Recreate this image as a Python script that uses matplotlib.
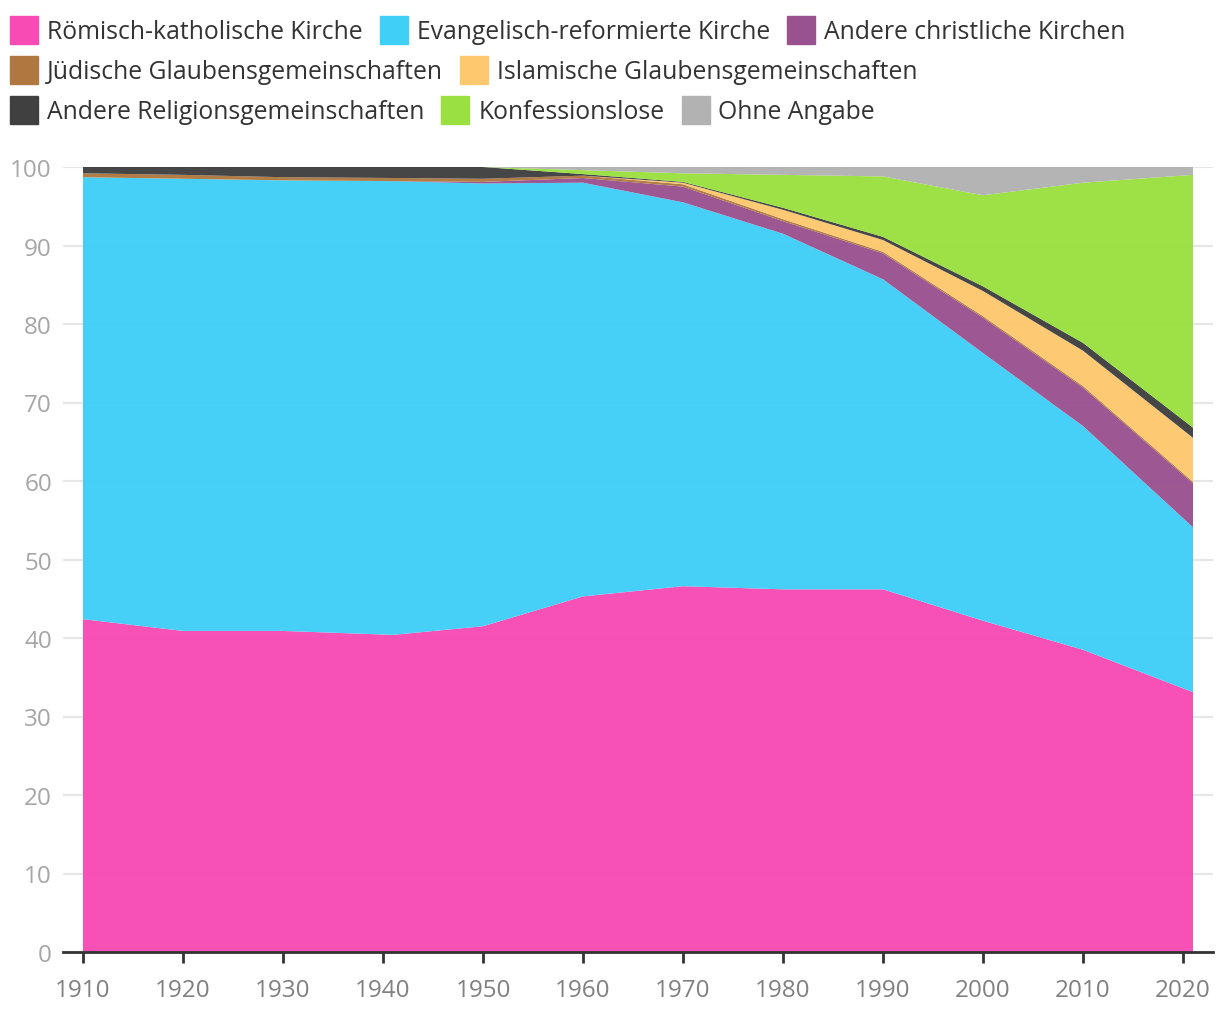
import matplotlib
matplotlib.use("Agg")
import matplotlib.pyplot as plt
from matplotlib.patches import Rectangle

plt.rcParams['font.family'] = ['Open Sans', 'DejaVu Sans']

# data (Anteile in %)
years = [1910, 1920, 1930, 1941, 1950, 1960, 1970, 1980, 1990, 2000, 2010, 2021]
katholisch = [42.4, 40.9, 40.9, 40.4, 41.5, 45.3, 46.6, 46.2, 46.2, 42.2, 38.5, 33.1]
reformiert = [56.3, 57.6, 57.4, 57.8, 56.4, 52.7, 48.9, 45.3, 39.5, 34.1, 28.5, 21.0]
andere_christ = [0.0, 0.0, 0.0, 0.0, 0.2, 0.6, 2.0, 1.6, 3.3, 4.5, 4.9, 5.6]
juedisch = [0.5, 0.5, 0.4, 0.4, 0.4, 0.3, 0.3, 0.25, 0.2, 0.2, 0.2, 0.2]
islamisch = [0.0, 0.0, 0.0, 0.0, 0.0, 0.0, 0.2, 1.2, 1.5, 3.2, 4.5, 5.6]
andere_rel = [0.8, 1.0, 1.3, 1.4, 1.5, 0.2, 0.1, 0.25, 0.4, 0.6, 1.0, 1.3]
konfessionslos = [0.0, 0.0, 0.0, 0.0, 0.0, 0.5, 1.1, 4.2, 7.7, 11.6, 20.4, 32.2]
ohne_angabe = [0.0, 0.0, 0.0, 0.0, 0.0, 0.4, 0.8, 1.0, 1.2, 3.6, 2.0, 1.0]

labels = ['Römisch-katholische Kirche', 'Evangelisch-reformierte Kirche', 'Andere christliche Kirchen',
          'Jüdische Glaubensgemeinschaften', 'Islamische Glaubensgemeinschaften',
          'Andere Religionsgemeinschaften', 'Konfessionslose', 'Ohne Angabe']
colors = ['#f84bb4', '#40cff7', '#9a5190', '#b07840', '#fdc86e', '#404040', '#9be041', '#b2b2b2']
xticks = [1910, 1920, 1930, 1940, 1950, 1960, 1970, 1980, 1990, 2000, 2010, 2020]
yticks = [0, 10, 20, 30, 40, 50, 60, 70, 80, 90, 100]

W, H = 1220, 1020
fig = plt.figure(figsize=(W / 100, H / 100), dpi=100)
ax = fig.add_axes([63 / W, (H - 953) / H, (1213 - 63) / W, (953 - 168) / H])

series = [katholisch, reformiert, andere_christ, juedisch, islamisch, andere_rel, konfessionslos, ohne_angabe]
ax.stackplot(years, *series, colors=colors, alpha=0.97, linewidth=0, zorder=2)

ax.set_xlim(1908, 2023)
ax.set_ylim(0, 100)
ax.set_xticks(xticks)
ax.set_yticks(yticks)
ax.grid(axis='y', color='#e6e6e6', linewidth=1.5, zorder=0)
ax.set_axisbelow(True)
for s in ['top', 'right', 'left']:
    ax.spines[s].set_visible(False)
ax.spines['bottom'].set_color('#333333')
ax.spines['bottom'].set_linewidth(2)
ax.spines['bottom'].set_zorder(3)
ax.tick_params(axis='x', length=8, width=2, color='#333333', labelsize=17.5, labelcolor='#808080', pad=11)
ax.tick_params(axis='y', length=0, labelsize=17.5, labelcolor='#a6a6a6', pad=8)

# legend as a flow layout (pixel coords)
fig.canvas.draw()
r = fig.canvas.get_renderer()
x, y = 10, 32.5
box, gap_t, gap_e, maxw = 28, 9, 17, 1210
for lab, col in zip(labels, colors):
    t = fig.text(0, 0, lab, fontsize=17.8, color='#333333', va='center', ha='left')
    tw = t.get_window_extent(renderer=r).width
    if x + box + gap_t + tw > maxw:
        x = 10
        y += 40
    fig.patches.append(Rectangle((x / W, (H - y - box / 2 + 2) / H), box / W, box / H,
                                 transform=fig.transFigure, color=col, figure=fig))
    t.set_position(((x + box + gap_t) / W, (H - y) / H))
    x += box + gap_t + tw + gap_e

fig.savefig('out.png', dpi=100)
